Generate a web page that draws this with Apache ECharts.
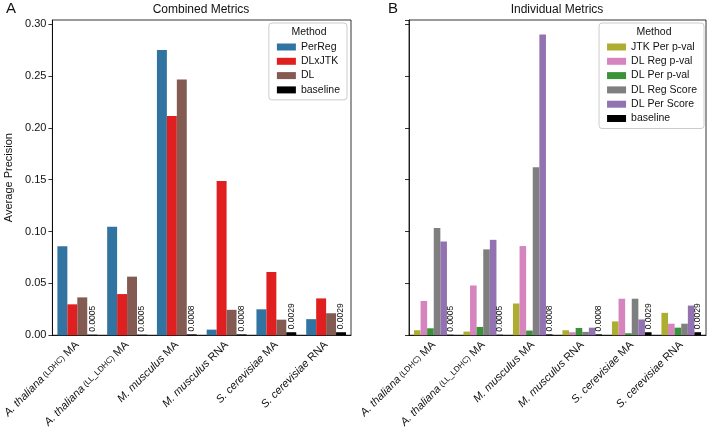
<!DOCTYPE html>
<html>
<head>
<meta charset="utf-8">
<script src="https://cdn.jsdelivr.net/npm/echarts@6/dist/echarts.min.js"></script>
<style>
  html, body { margin: 0; padding: 0; background: #fff; }
  #chart { width: 712px; height: 430px; }
</style>
</head>
<body>
<div id="chart"></div>
<script>
// categories (species + dataset)
var groups = ['A. thaliana (LDHC) MA', 'A. thaliana (LL_LDHC) MA', 'M. musculus MA',
              'M. musculus RNA', 'S. cerevisiae MA', 'S. cerevisiae RNA']

// panel A - combined metrics
var perReg = [0.0857, 0.1045, 0.275, 0.0054, 0.025, 0.0155]
var dlxjtk = [0.0298, 0.0397, 0.2114, 0.1488, 0.061, 0.0355]
var dl = [0.0365, 0.0565, 0.2467, 0.0245, 0.015, 0.0212]

// panel B - individual metrics
var jtkPerP = [0.0048, 0.0035, 0.0306, 0.0048, 0.0133, 0.0216]
var dlRegP = [0.033, 0.048, 0.086, 0.0029, 0.0352, 0.0111]
var dlPerP = [0.0067, 0.008, 0.0045, 0.007, 0.0019, 0.0073]
var dlRegScore = [0.1034, 0.0828, 0.162, 0.0032, 0.0352, 0.0111]
var dlPerScore = [0.0904, 0.092, 0.290, 0.0073, 0.0152, 0.0286]

var baseline = [0.0005, 0.0005, 0.0008, 0.0008, 0.0029, 0.0029]

var FONT = 'Liberation Sans'

function catLabel(s) {
    // species name in italics, strain in small print
    var m = s.match(/^(\S+ \S+)( \(.*\))? (\S+)$/)
    if (!m) return s
    var out = '{it|' + m[1] + '}'
    if (m[2]) out += '{sm|' + m[2] + '}'
    return out + '{n| ' + m[3] + '}'
}

function xAxisFor(idx) {
    return {
        type: 'category', gridIndex: idx, data: groups,
        axisLine: { show: true, lineStyle: { color: '#000', width: 0.8 } },
        axisTick: { alignWithLabel: true, length: 4, lineStyle: { color: '#000', width: 0.8 } },
        axisLabel: {
            rotate: 45, margin: 8, color: '#111', fontFamily: FONT, fontSize: 11,
            formatter: catLabel,
            rich: {
                it: { fontStyle: 'italic', fontSize: 11, fontFamily: FONT, color: '#111' },
                sm: { fontSize: 8, fontFamily: FONT, color: '#111' },
                n: { fontSize: 11, fontFamily: FONT, color: '#111' }
            }
        }
    }
}

function yAxisFor(idx, labels) {
    return {
        type: 'value', gridIndex: idx, min: 0, max: 0.304, interval: 0.05,
        name: labels ? 'Average Precision' : '',
        nameLocation: 'middle', nameGap: 38,
        nameTextStyle: { fontFamily: FONT, fontSize: 11, color: '#111' },
        splitLine: { show: false },
        axisLine: { show: true, lineStyle: { color: '#000', width: 0.8 } },
        axisTick: { show: true, length: 4, lineStyle: { color: '#000', width: 0.8 } },
        axisLabel: {
            show: labels, showMaxLabel: false, margin: 6,
            color: '#111', fontFamily: FONT, fontSize: 11,
            formatter: function (v) { return v.toFixed(2) }
        }
    }
}

function bars(name, data, color, idx) {
    return {
        name: name, type: 'bar', data: data,
        xAxisIndex: idx, yAxisIndex: idx,
        barGap: '0%', barCategoryGap: '20%',
        itemStyle: { color: color },
        emphasis: { disabled: true }
    }
}

function baseBars(idx) {
    var s = bars('baseline', baseline, '#000', idx)
    s.label = {
        show: true, position: 'top', rotate: 90, distance: 3,
        align: 'left', verticalAlign: 'middle',
        fontFamily: FONT, fontSize: 8.5, color: '#111',
        formatter: function (p) { return p.value.toFixed(4) }
    }
    return s
}

var legendCommon = {
    orient: 'vertical', icon: 'rect', itemWidth: 19, itemHeight: 7, itemGap: 0.3,
    backgroundColor: '#fff', borderColor: '#ccc', borderWidth: 1, borderRadius: 3,
    padding: [17, 7, 3, 8],
    textStyle: { fontFamily: FONT, fontSize: 10.5, lineHeight: 14, color: '#111' }
}

function txt(text, left, top, size, extra) {
    return Object.assign({
        text: text, left: left, top: top, padding: 0,
        textStyle: { fontFamily: FONT, fontSize: size, fontWeight: 'normal', color: '#111' }
    }, extra || {})
}

var chart = echarts.init(document.getElementById('chart'))
var option = {
    animation: false,
    backgroundColor: '#fff',
    title: [
        txt('A', 6, 1, 15),
        txt('B', 388, 1, 15),
        txt('Combined Metrics', 201, 4, 12, { textAlign: 'center' }),
        txt('Individual Metrics', 557, 4, 12, { textAlign: 'center' }),
        txt('Method', 309, 27, 10.5, { textAlign: 'center', z: 10 }),
        txt('Method', 654, 27, 10.5, { textAlign: 'center', z: 10 })
    ],
    grid: [
        { left: 52, top: 20, width: 299, height: 319, show: true, borderColor: '#000', borderWidth: 0.8, backgroundColor: 'transparent' },
        { left: 409, top: 20, width: 297, height: 319, show: true, borderColor: '#000', borderWidth: 0.8, backgroundColor: 'transparent' }
    ],
    legend: [
        Object.assign({}, legendCommon, { right: 365, top: 23, data: ['PerReg', 'DLxJTK', 'DL', 'baseline'] }),
        Object.assign({}, legendCommon, { right: 8, top: 23, data: ['JTK Per p-val', 'DL Reg p-val', 'DL Per p-val', 'DL Reg Score', 'DL Per Score', 'baseline'] })
    ],
    xAxis: [xAxisFor(0), xAxisFor(1)],
    yAxis: [yAxisFor(0, true), yAxisFor(1, false)],
    series: [
        bars('PerReg', perReg, '#3274a1', 0),
        bars('DLxJTK', dlxjtk, '#e02020', 0),
        bars('DL', dl, '#845b53', 0),
        baseBars(0),
        bars('JTK Per p-val', jtkPerP, '#adad31', 1),
        bars('DL Reg p-val', dlRegP, '#d684bd', 1),
        bars('DL Per p-val', dlPerP, '#3a923a', 1),
        bars('DL Reg Score', dlRegScore, '#7f7f7f', 1),
        bars('DL Per Score', dlPerScore, '#9372b2', 1),
        baseBars(1)
    ]
}
chart.setOption(option)
</script>
</body>
</html>
